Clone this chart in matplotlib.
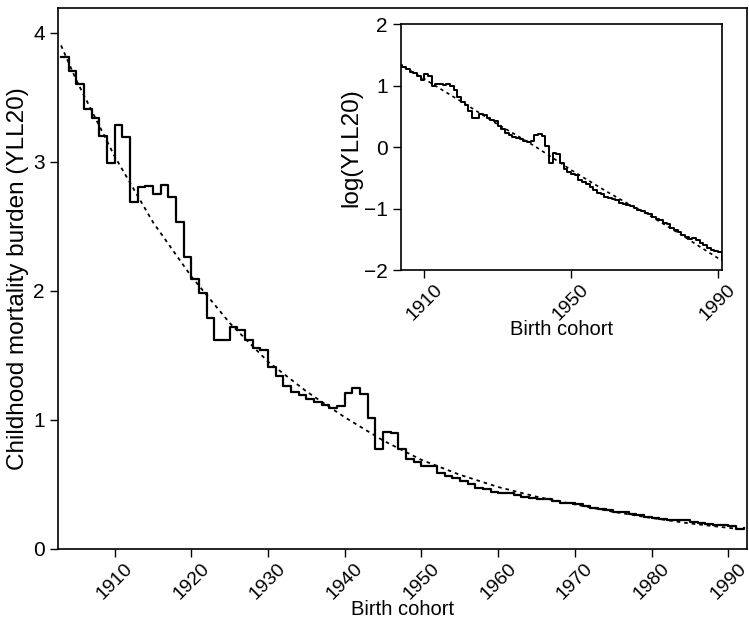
import numpy as np
import matplotlib
matplotlib.use("Agg")
import matplotlib.pyplot as plt

plt.rcParams["font.family"] = ["Liberation Sans", "DejaVu Sans"]

# yearly childhood mortality burden (YLL20), birth cohorts 1903-1992
years = list(range(1903, 1993))
yll20 = [
    3.81, 3.70, 3.60, 3.41, 3.34, 3.20, 2.99, 3.28, 3.19, 2.69,   # 1903-1912
    2.80, 2.81, 2.75, 2.82, 2.73, 2.53, 2.26, 2.09, 1.98, 1.79,   # 1913-1922
    1.62, 1.62, 1.72, 1.70, 1.62, 1.56, 1.54, 1.41, 1.34, 1.26,   # 1923-1932
    1.215, 1.19, 1.16, 1.135, 1.115, 1.095, 1.11, 1.21, 1.245, 1.20,  # 1933-1942
    1.015, 0.775, 0.905, 0.90, 0.775, 0.70, 0.67, 0.645, 0.64, 0.59,  # 1943-1952
    0.565, 0.548, 0.527, 0.50, 0.475, 0.463, 0.445, 0.437, 0.43, 0.42,  # 1953-1962
    0.40, 0.395, 0.39, 0.385, 0.37, 0.36, 0.355, 0.345, 0.335, 0.32,  # 1963-1972
    0.31, 0.305, 0.29, 0.285, 0.27, 0.26, 0.25, 0.24, 0.232, 0.225,   # 1973-1982
    0.228, 0.222, 0.21, 0.205, 0.195, 0.187, 0.183, 0.18, 0.158, 0.165,  # 1983-1992
]

# fitted trend (dashed)
fit_years = [1903, 1905, 1910, 1915, 1920, 1925, 1930, 1935, 1940, 1945,
             1950, 1955, 1960, 1965, 1970, 1975, 1980, 1985, 1990, 1992]
fit_vals = [3.90, 3.63, 3.04, 2.53, 2.11, 1.75, 1.45, 1.22, 1.02, 0.84,
            0.69, 0.575, 0.48, 0.405, 0.345, 0.288, 0.24, 0.198, 0.164, 0.152]

main_xticks = [1910, 1920, 1930, 1940, 1950, 1960, 1970, 1980, 1990]
inset_xticks = [1910, 1950, 1990]


def style_axes(a, xticks, yticks):
    a.set_xticks(xticks)
    a.set_yticks(yticks)
    a.tick_params(axis="y", labelsize=15, length=6, width=1)
    a.tick_params(axis="x", labelsize=14, length=6, width=1, pad=2)
    plt.setp(a.get_xticklabels(), rotation=45)
    for s in a.spines.values():
        s.set_linewidth(1.2)


fig = plt.figure(figsize=(7.49, 6.25), dpi=100)
ax = fig.add_axes([0.0774, 0.1216, 0.9195, 0.8656])
ax.plot(years, yll20, drawstyle="steps-post", color="black", lw=1.6)
ax.plot(fit_years, fit_vals, color="black", lw=1.3, linestyle=(0, (2, 2.2)))
ax.set_xlim(1902.6, 1992.4)
ax.set_ylim(0, 4.19)
style_axes(ax, main_xticks, [0, 1, 2, 3, 4])
ax.set_xlabel("Birth cohort", fontsize=14.5, labelpad=-2)
ax.set_ylabel("Childhood mortality burden (YLL20)", fontsize=17.5, labelpad=3)

ins = fig.add_axes([0.535, 0.568, 0.4286, 0.393])
ins.plot(years, np.log(yll20), drawstyle="steps-post", color="black", lw=1.4)
ins.plot(fit_years, np.log(fit_vals), color="black", lw=1.2, linestyle=(0, (2, 2.2)))
ins.set_xlim(1903.6, 1991.0)
ins.set_ylim(-2, 2)
style_axes(ins, inset_xticks, [-2, -1, 0, 1, 2])
ins.set_xlabel("Birth cohort", fontsize=14.5, labelpad=-3)
ins.set_ylabel("log(YLL20)", fontsize=17.5, labelpad=1)

fig.savefig("out.png", dpi=100)
